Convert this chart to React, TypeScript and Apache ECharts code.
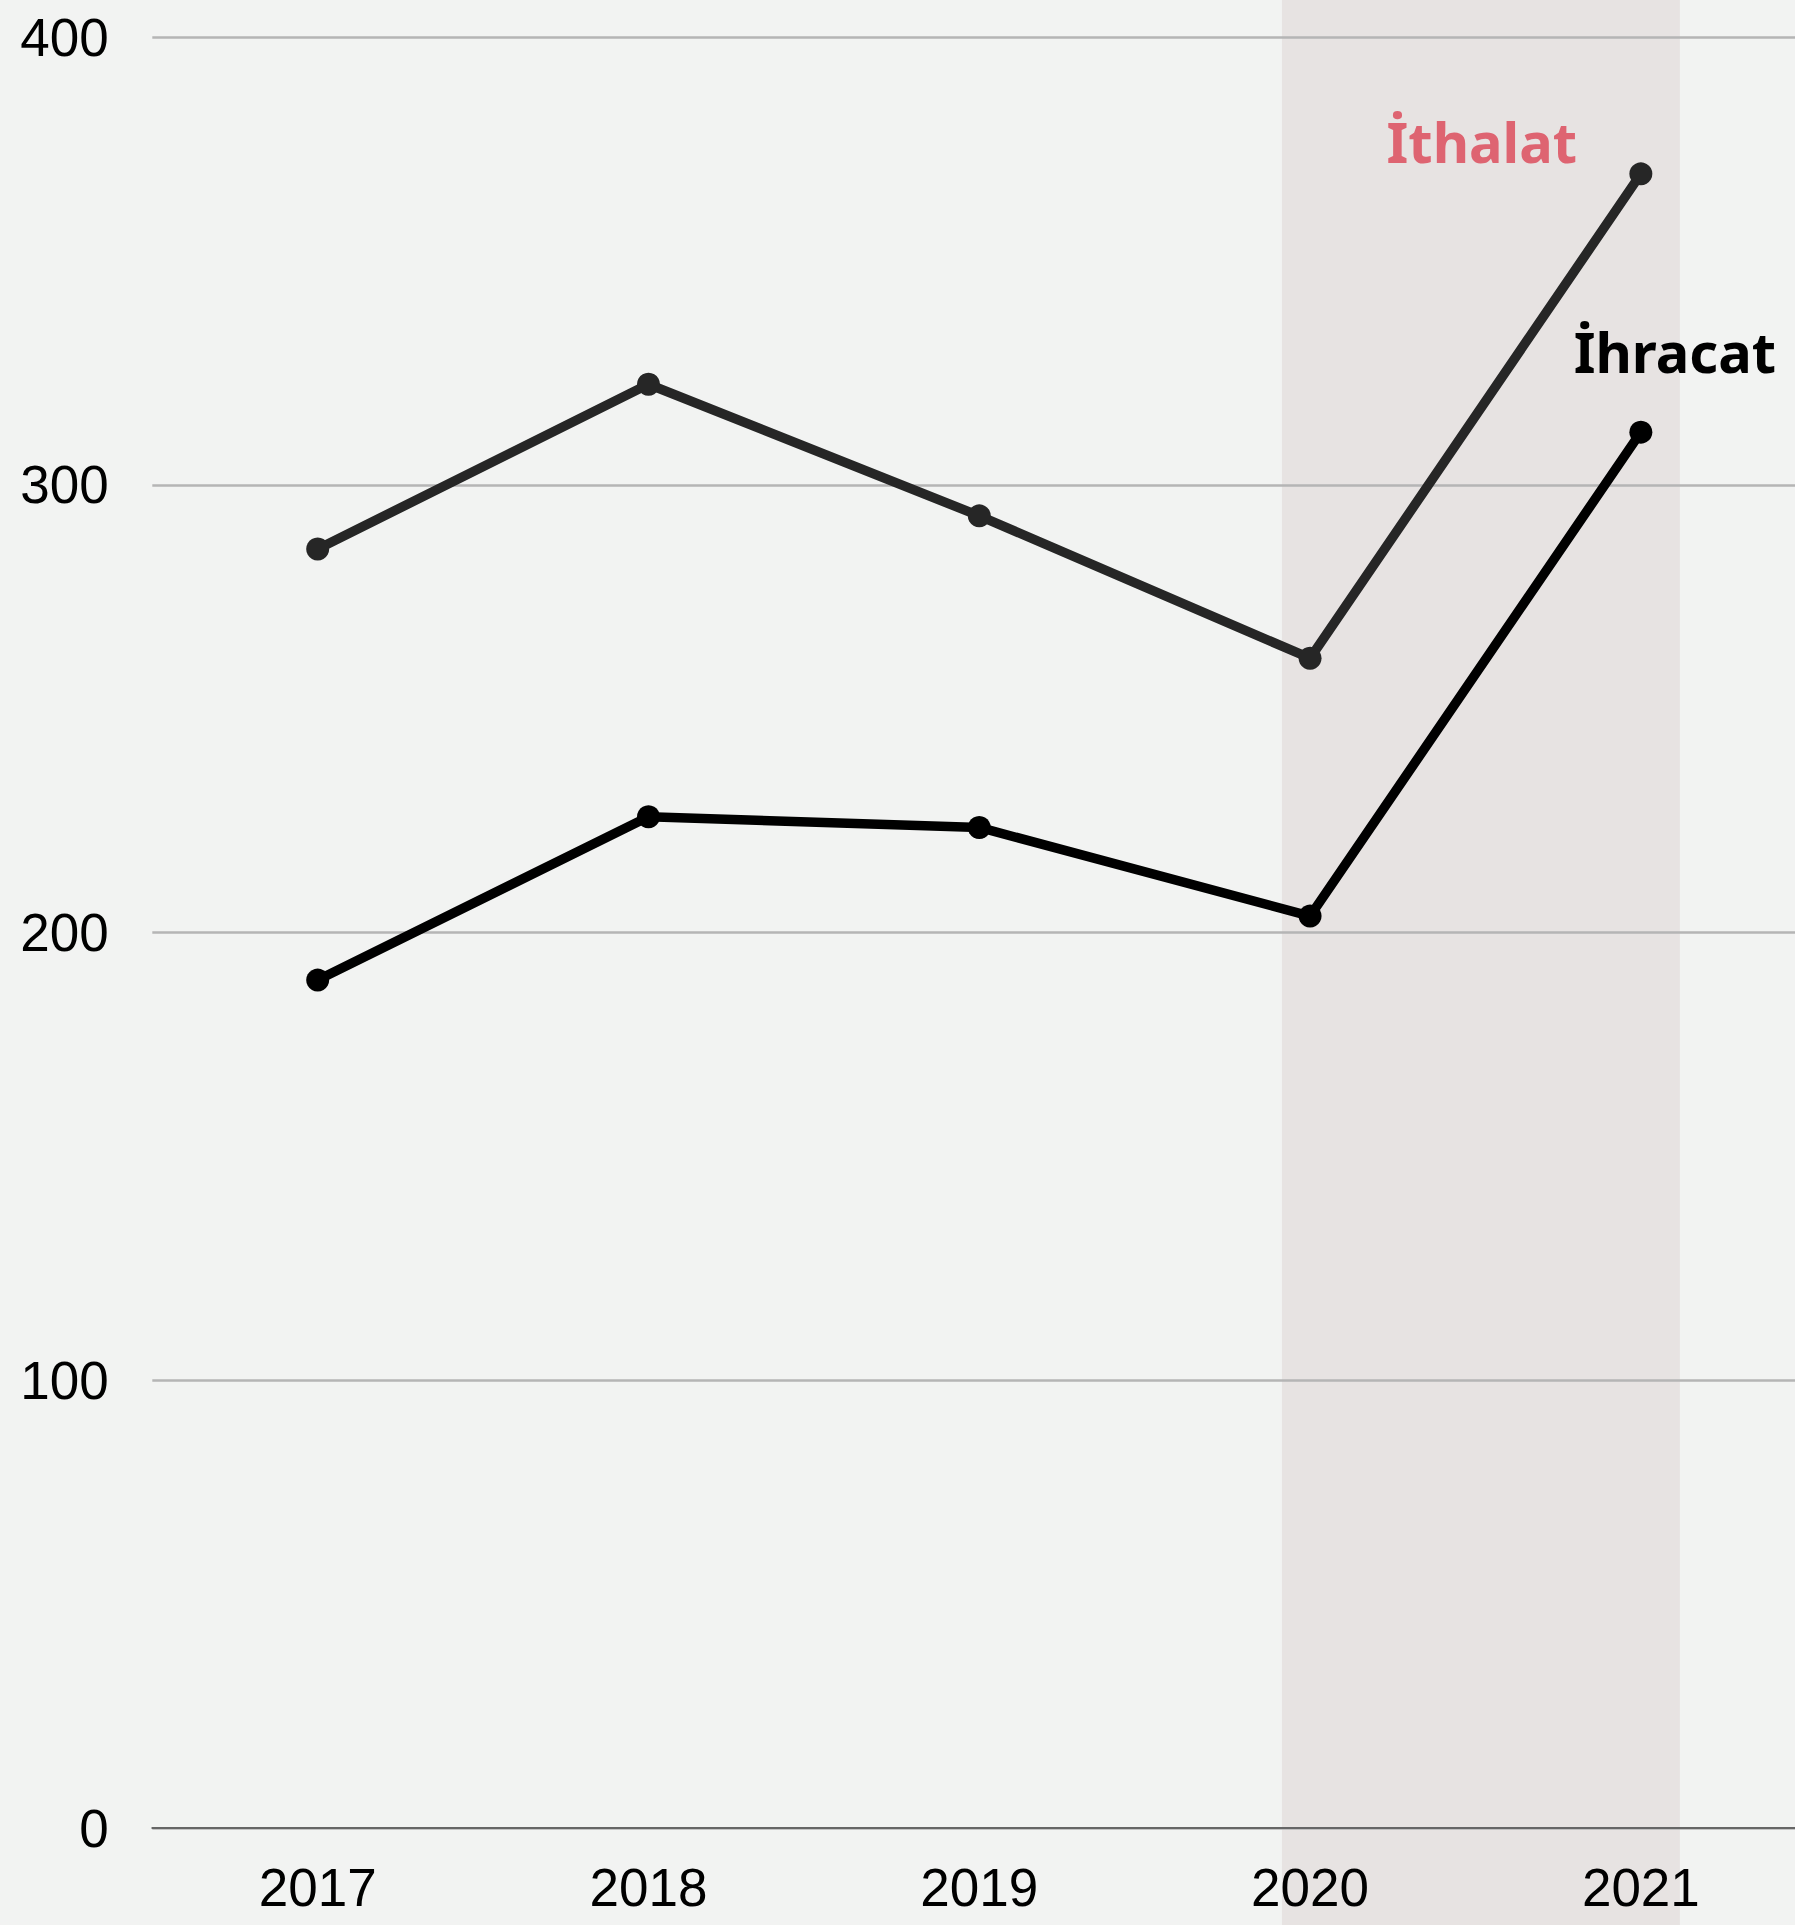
import React, { useEffect, useRef } from "react";
import * as echarts from "echarts";

const years = [2017, 2018, 2019, 2020, 2021];
const ithalat = [285.7, 322.5, 293.1, 261.3, 369.5];
const ihracat = [189.4, 225.9, 223.5, 203.7, 311.8];
const yTicks = [0, 100, 200, 300, 400];
const shadeRange = [2019.915, 2021.118];
const seriesNames = ["İthalat", "İhracat"];

export default function App() {
  const ref = useRef<HTMLDivElement>(null);
  useEffect(() => {
    if (!ref.current) return;
    const chart = echarts.init(ref.current, null, { renderer: "svg" });
    const lastLabel = (arr: number[], name: string, color: string, offset: number[]) =>
      arr.map((v, i) =>
        i === arr.length - 1
          ? {
              value: [years[i], v],
              label: {
                show: true,
                formatter: name,
                position: "inside",
                align: "center",
                verticalAlign: "middle",
                offset,
                color,
                fontFamily: "Noto Sans",
                fontWeight: "bold",
                fontSize: 56,
              },
            }
          : { value: [years[i], v] }
      );
    chart.setOption({
      animation: false,
      backgroundColor: "#f2f3f2",
      grid: { left: 152.3, right: 0, top: 37.3, bottom: 97 },
      xAxis: {
        type: "value",
        min: 2016.5,
        max: 2021.466,
        axisLine: { show: true, onZero: false, lineStyle: { color: "#666666", width: 2 } },
        axisTick: { show: false },
        splitLine: { show: false },
        axisLabel: {
          customValues: years,
          formatter: (v: number) => String(v),
          color: "#000",
          fontFamily: "Liberation Sans",
          fontSize: 53,
          margin: 33,
        },
      },
      yAxis: {
        type: "value",
        min: 0,
        max: 400,
        interval: 100,
        axisLine: { show: false },
        axisTick: { show: false },
        splitLine: { show: true, lineStyle: { color: "#b5b5b5", width: 2.5 } },
        axisLabel: {
          color: "#000",
          fontFamily: "Liberation Sans",
          fontSize: 53,
          margin: 43.6,
          customValues: yTicks,
        },
      },
      series: [
        {
          name: "shade",
          type: "line",
          data: [],
          z: -1,
          silent: true,
          clip: false,
          markArea: {
            silent: true,
            z: -1,
            itemStyle: { color: "#e7e3e2" },
            data: [[{ xAxis: shadeRange[0], y: 0 }, { xAxis: shadeRange[1], y: 1925 }]],
          },
        },
        {
          name: seriesNames[0],
          type: "line",
          data: lastLabel(ithalat, seriesNames[0], "#de6471", [-159, -33]),
          symbol: "circle",
          symbolSize: 23,
          lineStyle: { color: "#262626", width: 9.5 },
          itemStyle: { color: "#262626" },
          z: 3,
        },
        {
          name: seriesNames[1],
          type: "line",
          data: lastLabel(ihracat, seriesNames[1], "#000000", [34, -81]),
          symbol: "circle",
          symbolSize: 23,
          lineStyle: { color: "#000000", width: 9.5 },
          itemStyle: { color: "#000000" },
          z: 4,
        },
      ],
    });
    return () => chart.dispose();
  }, []);
  return (
    <div
      ref={ref}
      style={{ position: "absolute", left: 0, top: 0, width: 1795, height: 1925 }}
    />
  );
}
